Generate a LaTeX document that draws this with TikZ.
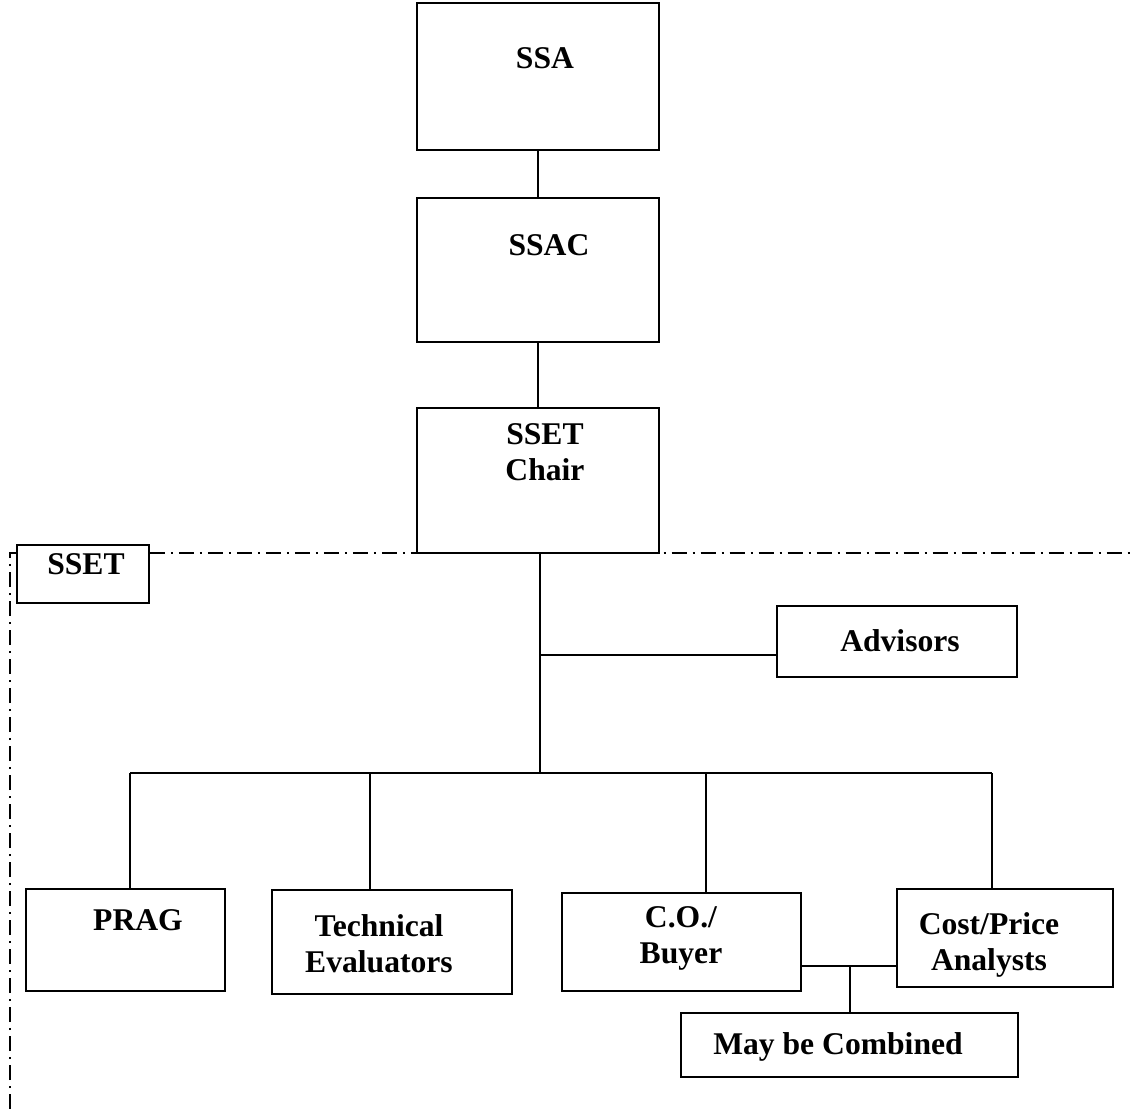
\documentclass[tikz,border=0pt]{standalone}
\usepackage{fontspec}
\setmainfont{Liberation Serif}

\tikzset{
  box/.style={draw, line width=1pt, inner sep=0pt, fill=white},
  lbl/.style={font=\fontsize{18}{20.5}\selectfont\bfseries, align=center, inner sep=0pt},
  frame/.style={line width=1pt, dash pattern=on 0.3cm off 0.12cm on 0.04cm off 0.12cm},
}

\begin{document}
\begin{tikzpicture}[x=0.02cm, y=-0.02cm, line width=1pt]
            \useasboundingbox (0, 0) rectangle (1133, 1109);
            % team frame
            \coordinate (fb) at (10, 1109);
            \coordinate (fc) at (10, 553);
            \coordinate (fr) at (1133, 553);
            \draw[frame] (fb) -- (fc) -- (fr);

            \node[box, minimum width=4.84cm, minimum height=2.94cm] (ssa) at (538, 76.5) {};
            \node[box, minimum width=4.84cm, minimum height=2.88cm] (ssac) at (538, 270) {};
            \node[box, minimum width=4.84cm, minimum height=2.90cm] (chair) at (538, 480.5) {};
            \node[box, minimum width=2.64cm, minimum height=1.16cm] (sset) at (83, 574) {};
            \node[box, minimum width=4.80cm, minimum height=1.42cm] (adv) at (897, 641.5) {};
            \node[box, minimum width=3.98cm, minimum height=2.04cm] (prag) at (125.5, 940) {};
            \node[box, minimum width=4.80cm, minimum height=2.08cm] (tech) at (392, 942) {};
            \node[box, minimum width=4.78cm, minimum height=1.96cm] (co) at (681.5, 942) {};
            \node[box, minimum width=4.32cm, minimum height=1.96cm] (cost) at (1005, 938) {};
            \node[box, minimum width=6.74cm, minimum height=1.28cm] (comb) at (849.5, 1045) {};

            \node[lbl] (ssa-t) at (545, 58) {SSA};
            \node[lbl] (ssac-t) at (549, 245) {SSAC};
            \node[lbl] (chair-t) at (545, 452) {SSET\\Chair};
            \node[lbl] (sset-t) at (86, 564) {SSET};
            \node[lbl] (adv-t) at (900, 641) {Advisors};
            \node[lbl] (prag-t) at (138, 920) {PRAG};
            \node[lbl] (tech-t) at (379, 944) {Technical\\Evaluators};
            \node[lbl] (co-t) at (681, 938) {C.O./\\Buyer};
            \node[lbl] (cost-t) at (989, 945) {Cost/Price\\Analysts};
            \node[lbl] (comb-t) at (838, 1047) {May be Combined};

            \draw (ssa) -- (ssac);
            \draw (ssac) -- (chair);

            % trunk, advisors and the bar
            \coordinate (a1) at (540, 655);
            \coordinate (b1) at (130, 773);
            \coordinate (b2) at (370, 773);
            \coordinate (b3) at (706, 773);
            \coordinate (b4) at (992, 773);
            \draw (chair.south -| a1) -- (a1 |- b1);
            \draw (a1) -- (a1 -| adv.west);
            \draw (b1) -- (b4);
            \draw (b1) -- (b1 |- prag.north);
            \draw (b2) -- (b2 |- tech.north);
            \draw (b3) -- (b3 |- co.north);
            \draw (b4) -- (b4 |- cost.north);

            % may be combined
            \coordinate (c1) at (850, 966);
            \draw (c1 -| co.east) -- (c1 -| cost.west);
            \draw (c1) -- (c1 |- comb.north);
        \end{tikzpicture}
\end{document}
